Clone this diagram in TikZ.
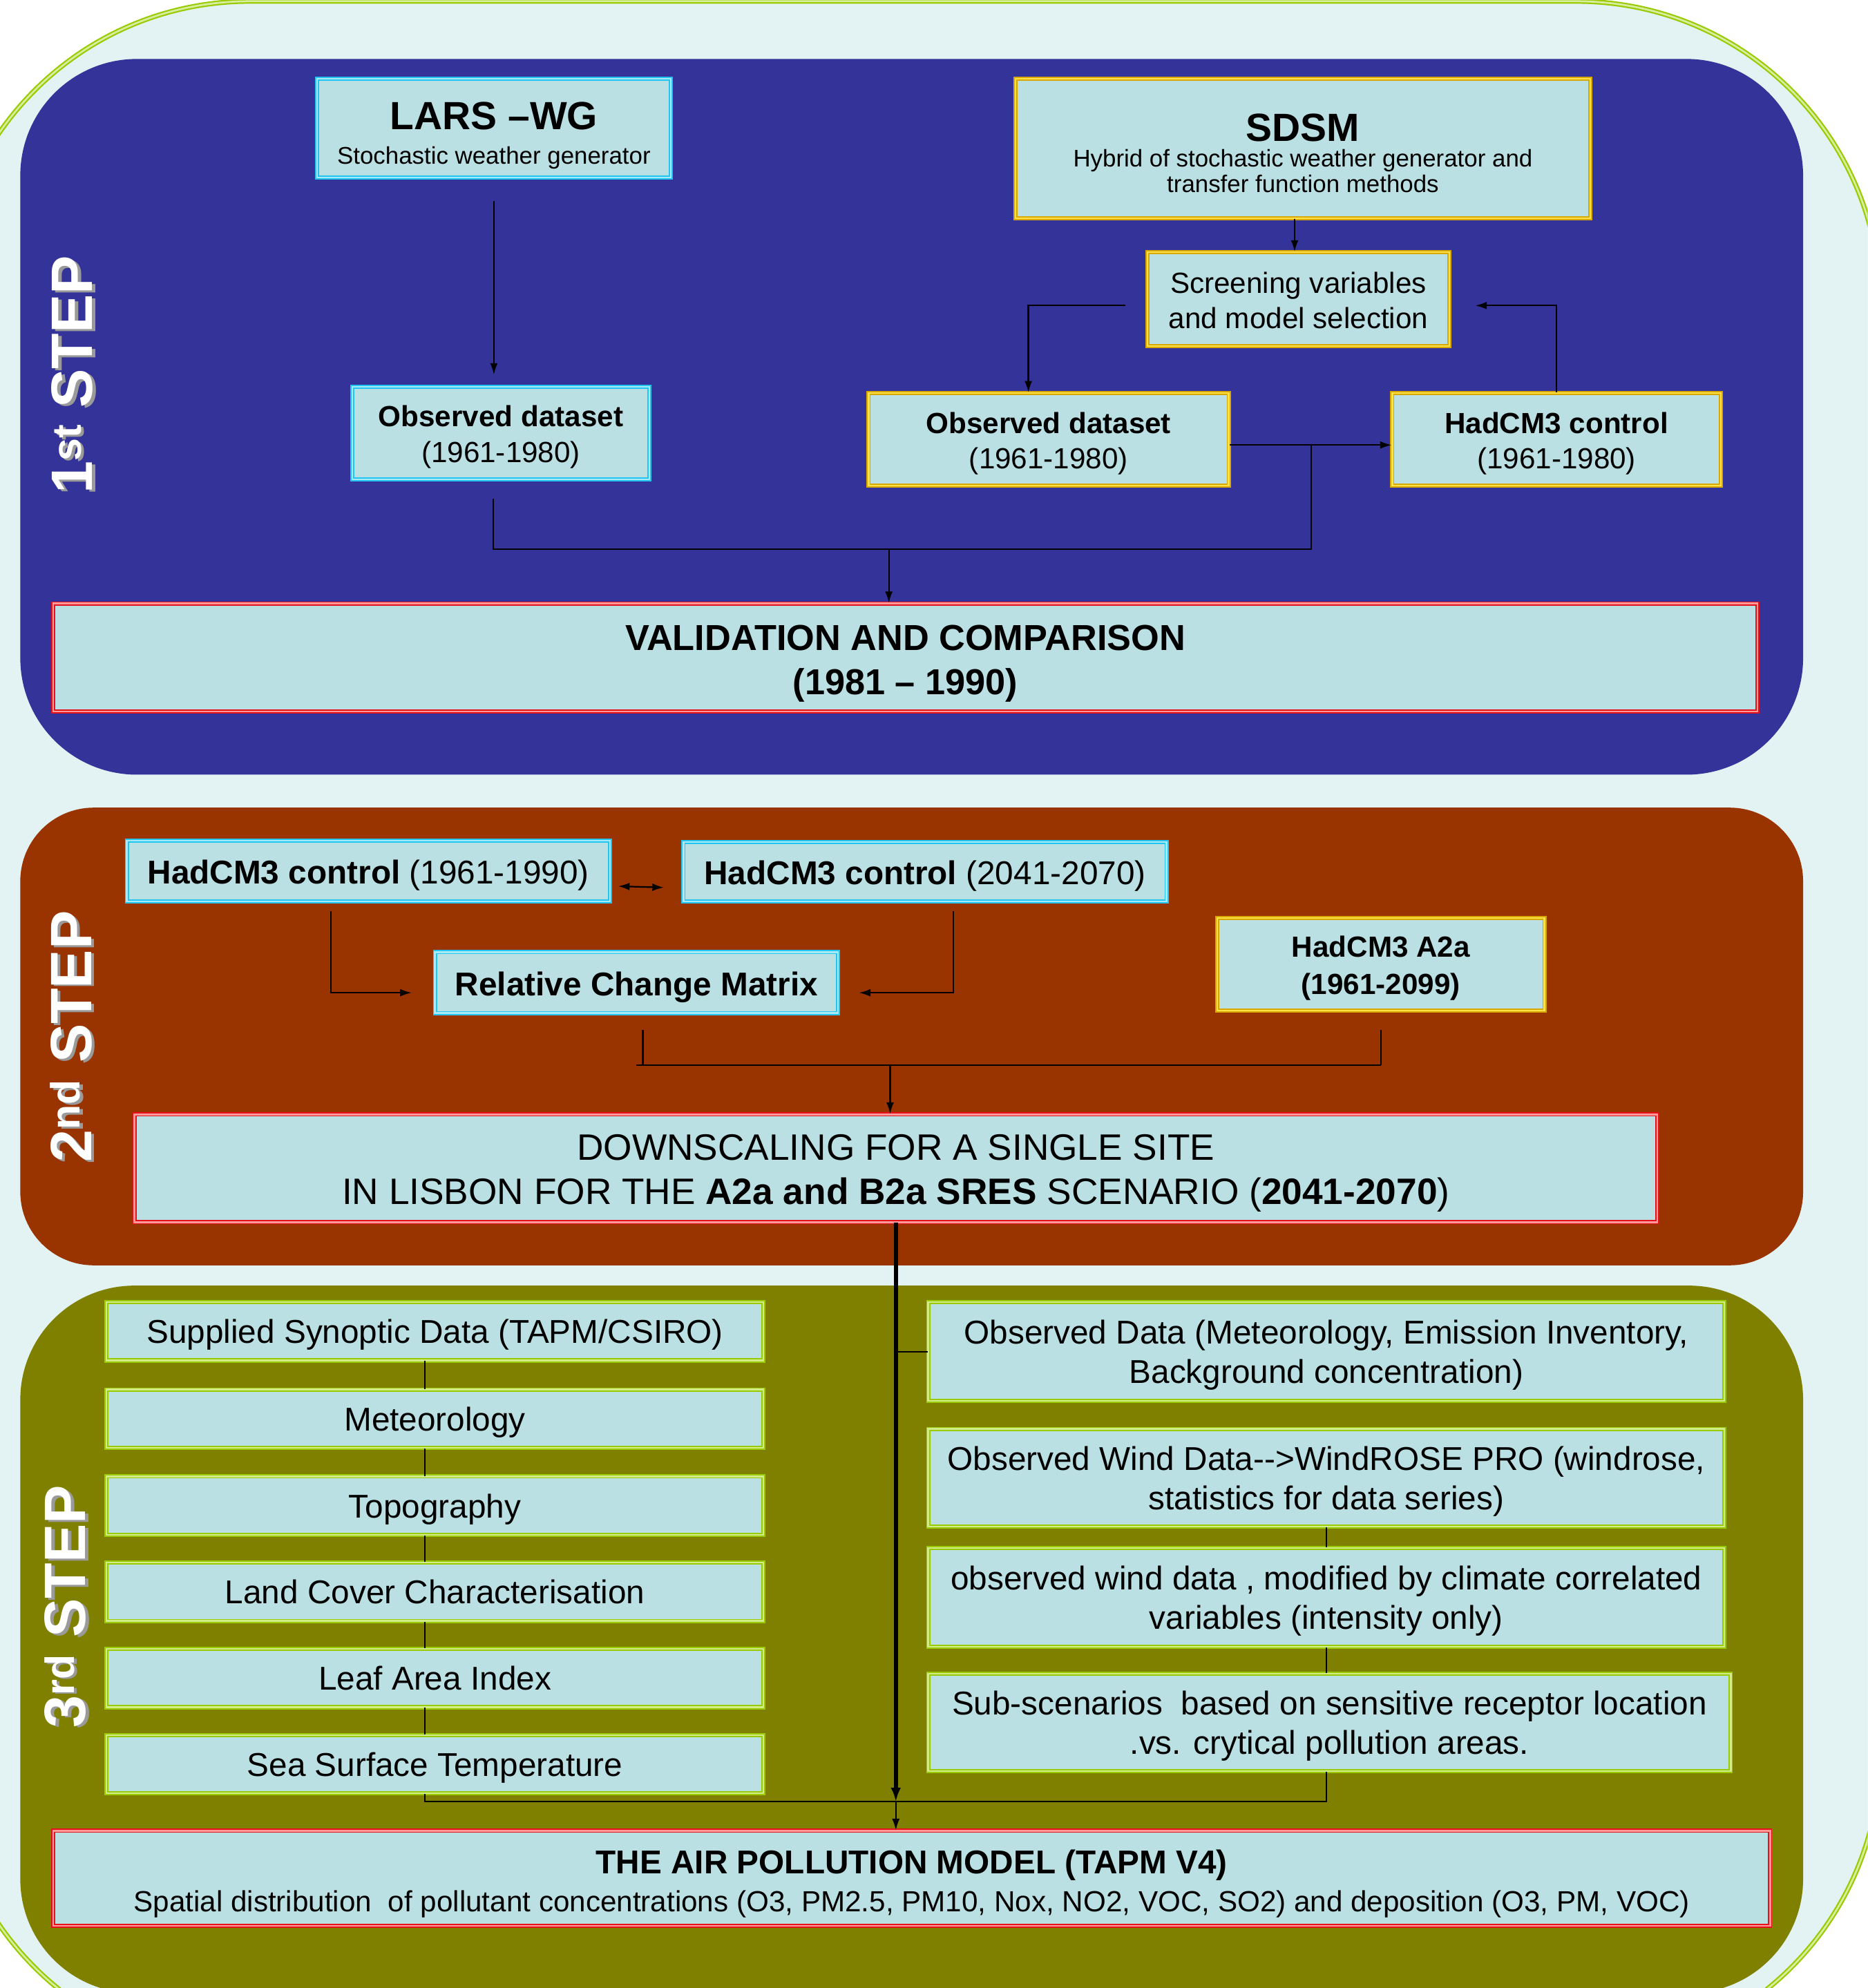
\documentclass[tikz,border=0pt]{standalone}
\usepackage{fontspec}
\setmainfont{Liberation Sans}
\usetikzlibrary{arrows.meta,calc}
\definecolor{bgpale}{HTML}{E3F2F2}
\definecolor{outerG}{HTML}{99CC00}
\definecolor{outerGl}{HTML}{D8EDA0}
\definecolor{stepA}{HTML}{333399}
\definecolor{stepB}{HTML}{993300}
\definecolor{stepC}{HTML}{808000}
\definecolor{boxfill}{HTML}{BBE0E3}
\definecolor{cyanB}{HTML}{22C4F0}
\definecolor{cyanL}{HTML}{A8EAF8}
\definecolor{goldB}{HTML}{D9A800}
\definecolor{goldL}{HTML}{FFE24A}
\definecolor{redB}{HTML}{E8101A}
\definecolor{redL}{HTML}{FF9A9A}
\definecolor{grnB}{HTML}{99CC00}
\definecolor{grnL}{HTML}{D4EB8C}
\definecolor{shadowgray}{HTML}{9A9A9A}
\newcommand{\fs}[2]{\fontsize{#1}{#2}\selectfont}
\newcommand{\tstrut}[1][0.95em]{\rule{0pt}{#1}}
\begin{document}
\begin{tikzpicture}[x=1pt,y=-1pt,
  box/.style={fill=boxfill, line width=1pt, double distance=1.3pt, inner sep=0pt, align=center, text=black},
  cyanbox/.style={box, draw=cyanB, double=cyanL},
  goldbox/.style={box, draw=goldB, double=goldL},
  redbox/.style={box, draw=redB, double=redL},
  grnbox/.style={box, draw=grnB, double=grnL},
  wh/.style args={#1x#2}{minimum width=#1pt, minimum height=#2pt},
  conn/.style={line width=1.2pt, draw=black},
  arr/.style={conn, -{Latex[length=9pt,width=6pt]}},
  dblarr/.style={conn, {Latex[length=9pt,width=6pt]}-{Latex[length=9pt,width=6pt]}},
  thickarr/.style={line width=3pt, draw=black, -{Latex[length=11pt,width=8pt]}},
  steplbl/.style={rotate=90, font=\fs{46}{50}\bfseries, text=white, inner sep=0pt},
  stepshadow/.style={steplbl, text=shadowgray},
]
\useasboundingbox (0,0) rectangle (1473,1568);
\clip (0,0) rectangle (1473,1568);
\fill[white] (0,0) rectangle (1473,1568);
\filldraw[fill=bgpale, draw=outerG, line width=1.2pt, double=outerGl, double distance=1.5pt, rounded corners=240pt] (-43,1) rectangle (1483,1622);

% panels
\fill[stepA, rounded corners=92pt] (16,46.5) rectangle (1422,611);
\fill[stepB, rounded corners=58pt] (16,637) rectangle (1422,998);
\fill[stepC, rounded corners=90pt] (16,1014) rectangle (1422,1572);

% step labels
\node[stepshadow] (s1sh) at (59.5,297) {1\textsuperscript{st} STEP};
\node[steplbl] (s1) at (57,295.5) {1\textsuperscript{st} STEP};
\node[stepshadow] (s2sh) at (58.5,819) {2\textsuperscript{nd} STEP};
\node[steplbl] (s2) at (56,817.5) {2\textsuperscript{nd} STEP};
\node[stepshadow] (s3sh) at (54,1268.5) {3\textsuperscript{rd} STEP};
\node[steplbl] (s3) at (51.5,1267) {3\textsuperscript{rd} STEP};

% step 1
\node[cyanbox, wh=279x78, font=\fs{19}{27}] (lars) at (389.5,101) {{\fs{31}{31}\bfseries\tstrut[1.08em]LARS –WG}\\Stochastic weather generator};
\node[goldbox, wh=453x110, font=\fs{19}{20}] (sdsm) at (1027.5,117) {{\fs{31}{31}\bfseries\tstrut SDSM}\\Hybrid of stochastic weather generator and\\transfer function methods};
\node[goldbox, wh=238x74, font=\fs{23}{28}] (screen) at (1024,236) {\tstrut[0.82em]Screening variables\\and model selection};
\node[cyanbox, wh=234x73, font=\fs{23}{28}] (obs1) at (395,341.5) {\tstrut[1em]\textbf{Observed dataset}\\(1961-1980)};
\node[goldbox, wh=284x73, font=\fs{23}{28}] (obs2) at (827,346.5) {\tstrut[1em]\textbf{Observed dataset}\\(1961-1980)};
\node[goldbox, wh=259x73, font=\fs{23}{28}] (had1) at (1227.5,346.5) {\tstrut[1em]\textbf{HadCM3 control}\\(1961-1980)};
\node[redbox, wh=1344x85, font=\fs{28.5}{35}\bfseries] (valid) at (714,518.5) {\tstrut[1.05em]VALIDATION AND COMPARISON\\(1981 – 1990)};

\draw[arr, shorten <=18pt, shorten >=9pt] (lars.south) -- (lars.south |- obs1.north);
\draw[arr] ([xshift=-6.5pt]sdsm.south) -- ([xshift=-6.5pt]sdsm.south |- screen.north);
\draw[arr, shorten <=17pt] ([yshift=-5pt]screen.west) -| ([xshift=-16pt]obs2.north);
\draw[arr, shorten >=20pt] (had1.north) |- ([yshift=-5pt]screen.east);
\draw[arr] ([yshift=-4.5pt]obs2.east) -- ([yshift=-4.5pt]had1.west);
\coordinate (jr) at (1034,351);
\coordinate (jb) at (1034,433);
\coordinate (jm) at (701,433);
\draw[conn, shorten >=15pt] (jr) -- (jb) -| ([xshift=-6pt]obs1.south);
\draw[arr] (jm) -- (jm |- valid.north);

% step 2
\node[cyanbox, wh=381x48, font=\fs{26}{30}] (hc61) at (290.5,687) {\tstrut[1em]\textbf{HadCM3 control} (1961-1990)};
\node[cyanbox, wh=381x47, font=\fs{26}{30}] (hc41) at (729.5,687.5) {\tstrut[1em]\textbf{HadCM3 control} (2041-2070)};
\node[cyanbox, wh=318x48, font=\fs{26}{30}\bfseries] (rcm) at (502,775) {\tstrut[1.02em]Relative Change Matrix};
\node[goldbox, wh=258x73, font=\fs{23}{29}\bfseries] (a2a) at (1089,760.5) {\tstrut[1em]HadCM3 A2a\\(1961-2099)};
\node[redbox, wh=1201x85, font=\fs{29}{35}] (down) at (706.5,921.5) {\tstrut DOWNSCALING FOR A SINGLE SITE\\IN LISBON FOR THE \textbf{A2a and B2a SRES} SCENARIO (\textbf{2041-2070})};

\draw[dblarr] ([xshift=6pt,yshift=-12pt]hc61.east) -- ([xshift=-15pt,yshift=-12.5pt]hc41.west);
\draw[arr, shorten <=7pt, shorten >=18pt] ([xshift=-29.5pt]hc61.south) |- ([yshift=-8pt]rcm.west);
\draw[arr, shorten <=7pt, shorten >=16pt] ([xshift=22.5pt]hc41.south) |- ([yshift=-8pt]rcm.east);
\coordinate (j2) at (702,840);
\coordinate (rcmb) at ([xshift=5pt]rcm.south);
\draw[conn, shorten <=13pt] (rcmb) -- (rcmb |- j2);
\draw[conn, shorten <=15pt] (a2a.south) -- (a2a.south |- j2);
\draw[conn] (rcm.south |- j2) -- (a2a.south |- j2);
\draw[arr] (j2) -- (j2 |- down.north);

% step 3
\node[grnbox, wh=518x46, font=\fs{26}{30}] (l1) at (343,1050) {\tstrut Supplied Synoptic Data (TAPM/CSIRO)};
\node[grnbox, wh=518x46, font=\fs{26}{30}] (l2) at (343,1119) {\tstrut Meteorology};
\node[grnbox, wh=518x46, font=\fs{26}{30}] (l3) at (343,1187.5) {\tstrut Topography};
\node[grnbox, wh=518x46, font=\fs{26}{30}] (l4) at (343,1255.5) {Land Cover Characterisation};
\node[grnbox, wh=518x46, font=\fs{26}{30}] (l5) at (343,1323.5) {Leaf Area Index};
\node[grnbox, wh=518x46, font=\fs{26}{30}] (l6) at (343,1391.5) {\tstrut Sea Surface Temperature};

\node[grnbox, wh=628x78, font=\fs{26}{31}] (r1) at (1046,1066) {\tstrut Observed Data (Meteorology, Emission Inventory,\\Background concentration)};
\node[grnbox, wh=628x77, font=\fs{26}{31}] (r2) at (1046,1165.5) {\tstrut Observed Wind Data-{}->WindROSE PRO (windrose,\\statistics for data series)};
\node[grnbox, wh=628x78, font=\fs{26}{31}] (r3) at (1046,1260) {\tstrut observed wind data , modified by climate correlated\\variables (intensity only)};
\node[grnbox, wh=633x77, font=\fs{26}{31}] (r4) at (1048.5,1358.5) {\tstrut Sub-scenarios\ \ based on sensitive receptor location\\.vs. crytical pollution areas.};

\node[redbox, wh=1354x75, font=\fs{23}{30}] (air) at (719,1481.5) {{\fs{26}{30}\bfseries\tstrut[1.05em]THE AIR POLLUTION MODEL (TAPM V4)}\\Spatial distribution\ \ of pollutant concentrations (O3, PM2.5, PM10, Nox, NO2, VOC, SO2) and deposition (O3, PM, VOC)};

\foreach \a/\b in {l1/l2,l2/l3,l3/l4,l4/l5,l5/l6}
  \draw[conn] ([xshift=-8pt]\a.south) -- ([xshift=-8pt]\b.north);
\coordinate (tk) at (706.5,1421);
\coordinate (r4b) at ([xshift=-2.5pt]r4.south);
\draw[conn] ([xshift=-8pt]l6.south) |- (r4b |- tk) -- (r4b);
\draw[conn] (r1.west) -- (r1.west -| tk);
\draw[conn] (r2.south) -- (r3.north);
\draw[conn] (r3.south) -- (r3.south |- r4.north);
\draw[thickarr] (down.south) -- (tk);
\draw[arr] (tk) -- (tk |- air.north);
\end{tikzpicture}
\end{document}
